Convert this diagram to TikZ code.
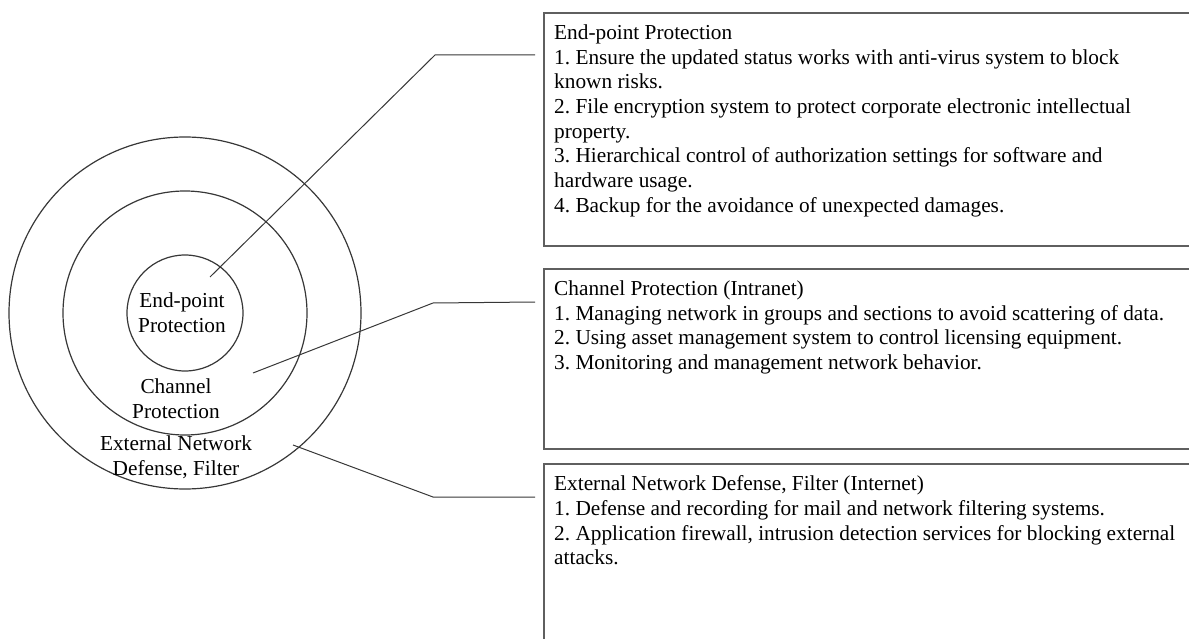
\documentclass[tikz,border=0pt]{standalone}
\usepackage{fontspec}
\setmainfont{Liberation Serif}
\usetikzlibrary{positioning,calc}
\definecolor{ringGray}{RGB}{55,55,55}
\definecolor{frameGray}{RGB}{95,95,95}

\tikzset{
  ring/.style={circle, draw=ringGray, line width=1.2pt, inner sep=0pt},
  panel/.style={draw=frameGray, line width=1.8pt, inner sep=0pt, anchor=north west},
  paneltext/.style={anchor=north west, align=left, inner sep=0pt},
  ringtext/.style={align=center, inner sep=0pt},
  leader/.style={draw=ringGray, line width=1pt},
}

\begin{document}
\frenchspacing
\begin{tikzpicture}[x=1pt, y=-1pt, font=\fontsize{21.3}{24.7}\selectfont]
% canvas = pixel grid of the source, y grows downward
\useasboundingbox (0,0) rectangle (1189,639);
\clip (0,0) rectangle (1189,639);
% three rings round one centre
\coordinate (c) at (185,313);
\node[ring, minimum size=352pt] (outer) at (c) {};
\node[ring, minimum size=244pt] (middle) at (c) {};
\node[ring, minimum size=116pt] (inner) at (c) {};
% ring labels
\node[ringtext] (endlbl) at (182,313) {End-point\\Protection};
\node[ringtext] (chanlbl) at (176,399) {Channel\\Protection};
\node[ringtext] (extlbl) at (176,457) {External Network\\Defense, Filter};
% panels (they run past the right and bottom edge)
\node[panel, minimum width=700pt, minimum height=233pt] (endpanel) at (543,12) {};
\node[panel, minimum width=700pt, minimum height=180pt] (chanpanel) at (543,268) {};
\node[panel, minimum width=700pt, minimum height=220pt] (extpanel) at (543,463) {};
% panel texts
\node[paneltext] (endtxt) at ([shift={(11,12.5)}]endpanel.north west)
  {End-point Protection\\
   1. Ensure the updated status works with anti-virus system to block\\
   known risks.\\
   2. File encryption system to protect corporate electronic intellectual\\
   property.\\
   3. Hierarchical control of authorization settings for software and\\
   hardware usage.\\
   4. Backup for the avoidance of unexpected damages.};
\node[paneltext] (chantxt) at ([shift={(11,12.5)}]chanpanel.north west)
  {Channel Protection (Intranet)\\
   1. Managing network in groups and sections to avoid scattering of data.\\
   2. Using asset management system to control licensing equipment.\\
   3. Monitoring and management network behavior.};
\node[paneltext] (exttxt) at ([shift={(11,12.5)}]extpanel.north west)
  {External Network Defense, Filter (Internet)\\
   1. Defense and recording for mail and network filtering systems.\\
   2. Application firewall, intrusion detection services for blocking external\\
   attacks.};
% leader lines: tip in the ring, bend, end just short of the panel
\coordinate (endtip) at (210,277);
\coordinate (endbend) at (435,55);
\coordinate (endend) at (535,55);
\coordinate (chantip) at (253,373);
\coordinate (chanbend) at (433,303);
\coordinate (chanend) at (535,302);
\coordinate (exttip) at (293,445);
\coordinate (extbend) at (433,497);
\coordinate (extend) at (535,497);
\draw[leader] (endtip) -- (endbend) -- (endend);
\draw[leader] (chantip) -- (chanbend) -- (chanend);
\draw[leader] (exttip) -- (extbend) -- (extend);
\end{tikzpicture}
\end{document}
